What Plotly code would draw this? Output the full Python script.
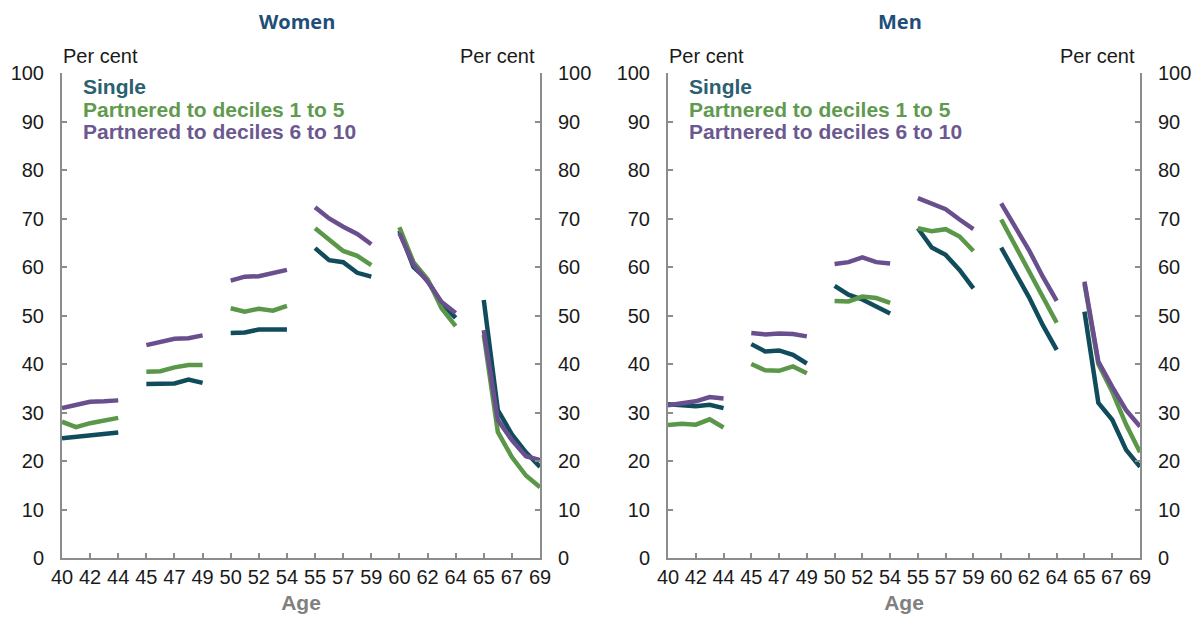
import plotly.graph_objects as go

# Ages 40-69, shown in five-year groups with a gap between groups
ages = list(range(40, 70))
tick_ages = [40, 42, 44, 45, 47, 49, 50, 52, 54, 55, 57, 59, 60, 62, 64, 65, 67, 69]

series_names = ["Single", "Partnered to deciles 1 to 5", "Partnered to deciles 6 to 10"]

women_single = [24.7, 25.0, 25.3, 25.6, 25.9, 35.9, 35.9, 36.0, 36.8, 36.1,
                46.4, 46.5, 47.1, 47.1, 47.1, 63.9, 61.4, 61.0, 58.8, 58.0,
                67.5, 60.0, 57.3, 52.5, 49.5, 53.2, 30.5, 25.5, 21.8, 18.8]
women_low = [28.1, 27.0, 27.8, 28.4, 28.9, 38.4, 38.5, 39.3, 39.8, 39.8,
             51.5, 50.8, 51.4, 51.0, 52.0, 68.0, 65.6, 63.3, 62.3, 60.4,
             68.2, 61.0, 57.5, 51.5, 47.8, 46.0, 26.0, 20.8, 17.0, 14.6]
women_high = [30.9, 31.6, 32.2, 32.3, 32.5, 43.9, 44.6, 45.2, 45.3, 45.9,
              57.2, 58.0, 58.1, 58.7, 59.4, 72.3, 70.0, 68.3, 66.8, 64.7,
              67.0, 60.5, 57.0, 52.8, 50.5, 47.0, 28.5, 24.3, 21.0, 20.2]

men_single = [31.7, 31.4, 31.3, 31.6, 30.9, 44.1, 42.6, 42.8, 41.9, 40.1,
              56.1, 54.3, 53.3, 51.8, 50.4, 68.0, 64.0, 62.5, 59.4, 55.6,
              64.0, 59.0, 53.8, 48.0, 42.9, 50.8, 32.0, 28.5, 22.3, 18.8]
men_low = [27.4, 27.7, 27.5, 28.6, 26.9, 40.0, 38.7, 38.6, 39.5, 38.1,
           53.0, 52.9, 53.9, 53.6, 52.6, 68.0, 67.4, 67.8, 66.3, 63.3,
           69.8, 64.5, 59.0, 53.5, 48.5, 56.5, 40.0, 34.3, 27.5, 21.8]
men_high = [31.5, 31.8, 32.3, 33.2, 32.9, 46.4, 46.1, 46.3, 46.2, 45.7,
            60.6, 61.0, 62.0, 61.0, 60.7, 74.2, 73.0, 71.9, 69.8, 67.8,
            73.1, 68.3, 63.5, 58.0, 53.0, 57.0, 40.5, 35.3, 30.5, 27.1]

COLORS = {"Single": "#114c5c", "Partnered to deciles 1 to 5": "#5b9748",
          "Partnered to deciles 6 to 10": "#6a4f8e"}
TEXT_COLORS = {"Single": "#2b6071", "Partnered to deciles 1 to 5": "#5f9a4f",
               "Partnered to deciles 6 to 10": "#6c5890"}
AXIS_GREY = "#8c8c8c"
FONT = "Liberation Sans, Arial, sans-serif"


def slot(age):
    # each five-year group takes six category slots (five ages plus a blank)
    return (age - 40) + (age - 40) // 5


def gapped(values):
    xs, ys = [], []
    for i, (a, v) in enumerate(zip(ages, values)):
        if i and a % 5 == 0:
            xs.append(slot(a) - 1)
            ys.append(None)
        xs.append(slot(a))
        ys.append(v)
    return xs, ys


fig = go.Figure()

panels = [
    ("x", "y", {"Single": women_single, "Partnered to deciles 1 to 5": women_low,
                "Partnered to deciles 6 to 10": women_high}),
    ("x2", "y2", {"Single": men_single, "Partnered to deciles 1 to 5": men_low,
                  "Partnered to deciles 6 to 10": men_high}),
]
for xa, ya, data in panels:
    for name in series_names:
        xs, ys = gapped(data[name])
        fig.add_trace(go.Scatter(
            x=xs, y=ys, xaxis=xa, yaxis=ya, mode="lines", name=name,
            line={"color": COLORS[name], "width": 4.5},
            connectgaps=False, showlegend=False,
        ))

# invisible traces so the right-hand axes render
fig.add_trace(go.Scatter(x=[0], y=[0], xaxis="x", yaxis="y3", mode="markers",
                         marker={"opacity": 0}, showlegend=False, hoverinfo="skip"))
fig.add_trace(go.Scatter(x=[0], y=[0], xaxis="x2", yaxis="y4", mode="markers",
                         marker={"opacity": 0}, showlegend=False, hoverinfo="skip"))

# the page body has an 8px margin, so work in page pixels minus that offset
OFF = 8
W, H = 1204 - OFF, 630 - OFF


def px(x):
    return (x - OFF) / W


def py(y):
    return 1 - (y - OFF) / H


left_dom = [px(62), px(540)]
right_dom = [px(668), px(1140)]
y_dom = [py(558), py(73)]

xcommon = dict(
    range=[0, slot(69)], tickvals=[slot(a) for a in tick_ages],
    ticktext=[str(a) for a in tick_ages], showgrid=False, zeroline=False,
    showline=True, linecolor=AXIS_GREY, linewidth=2, ticks="inside",
    ticklen=5, tickcolor=AXIS_GREY, tickwidth=1.5,
    tickfont={"family": FONT, "size": 20, "color": "#1a1a1a"},
    title={"text": "<b>Age</b>", "font": {"family": FONT, "size": 21, "color": "#808080"},
           "standoff": 8},
    automargin=False, fixedrange=True,
)
ycommon = dict(
    range=[0, 100], dtick=10, showgrid=False, zeroline=False, showline=True,
    linecolor=AXIS_GREY, linewidth=2, ticks="inside", ticklen=5,
    tickcolor=AXIS_GREY, tickwidth=1.5, domain=y_dom,
    tickfont={"family": FONT, "size": 20, "color": "#1a1a1a"},
    ticklabelstandoff=12, automargin=False, fixedrange=True,
)

fig.update_layout(
    width=W, height=H,
    margin={"l": 0, "r": 0, "t": 0, "b": 0},
    plot_bgcolor="white", paper_bgcolor="white",
    xaxis=dict(xcommon, domain=left_dom, anchor="y"),
    xaxis2=dict(xcommon, domain=right_dom, anchor="y2"),
    yaxis=dict(ycommon, anchor="x", side="left"),
    yaxis2=dict(ycommon, anchor="x2", side="left"),
    yaxis3=dict(ycommon, anchor="x", side="right", overlaying="y"),
    yaxis4=dict(ycommon, anchor="x2", side="right", overlaying="y2"),
)

annotations = []
for title, (x0, x1) in [("Women", (62, 540)), ("Men", (668, 1140))]:
    annotations.append(dict(
        text=f"<b>{title}</b>", x=px((x0 + x1) / 2 - 4), y=py(22),
        xref="paper", yref="paper", xanchor="center", yanchor="middle",
        showarrow=False, borderpad=0,
        font={"family": "Open Sans, sans-serif", "size": 20, "color": "#1f4e79"},
    ))
    for cx in (x0 + 38, x1 - 43):
        annotations.append(dict(
            text="Per cent", x=px(cx), y=py(56), xref="paper", yref="paper",
            xanchor="center", yanchor="middle", showarrow=False,
            font={"family": FONT, "size": 20, "color": "#1a1a1a"},
        ))
    for k, name in enumerate(series_names):
        annotations.append(dict(
            text=f"<b>{name}</b>", x=px(x0 + 19), y=py(87 + 22 * k),
            xref="paper", yref="paper", xanchor="left", yanchor="middle",
            showarrow=False,
            font={"family": FONT, "size": 21, "color": TEXT_COLORS[name]},
        ))
fig.update_layout(annotations=annotations)

fig.write_html("out.html")
